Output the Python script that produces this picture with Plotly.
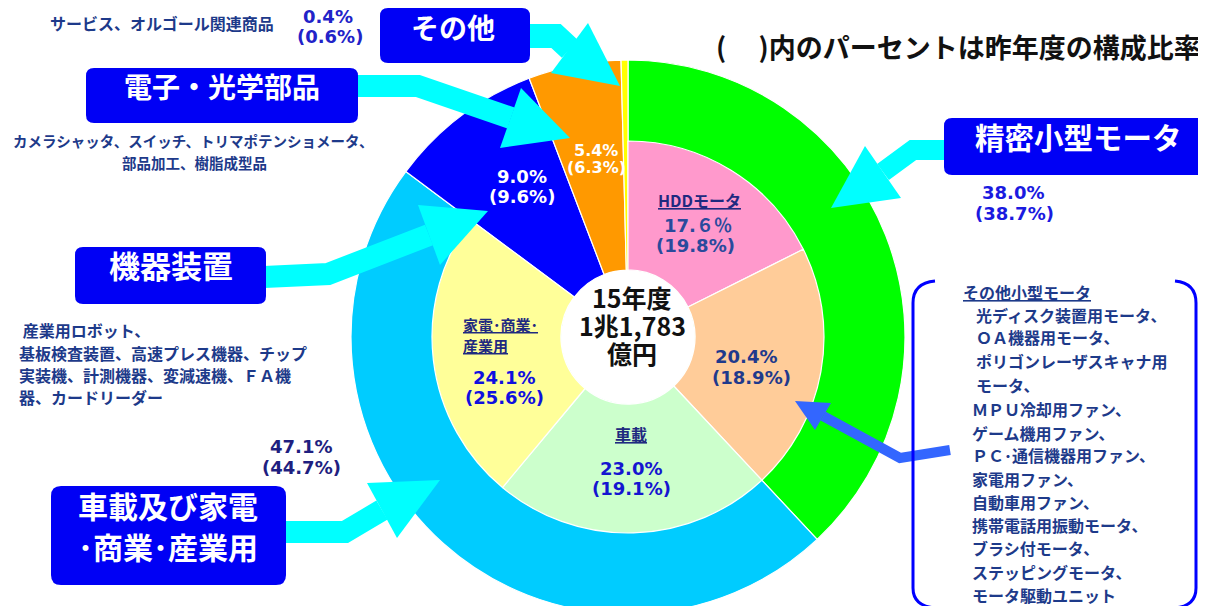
import plotly.graph_objects as go

# ---------------- data ----------------
outer_labels = ['精密小型モータ', '車載及び家電・商業・産業用', '機器装置', '電子・光学部品', 'その他']
outer_values = [38.0, 47.1, 9.0, 5.4, 0.4]
outer_prev = [38.7, 44.7, 9.6, 6.3, 0.6]
outer_colors = ['#00FF00', '#00CCFF', '#0000FF', '#FF9900', '#FFFF00']

inner_labels = ['HDDモータ', 'その他小型モータ', '車載', '家電・商業・産業用']
inner_values = [17.6, 20.4, 23.0, 24.1]
inner_prev = [19.8, 18.9, 19.1, 25.6]
inner_colors = ['#FF99CC', '#FFCC99', '#CCFFCC', '#FFFF99']

center_text = ['15年度', '1兆1,783', '億円']
note_text = '(\u3000\u2009)内のパーセントは昨年度の構成比率'

desc_other = 'サービス、オルゴール関連商品'
desc_parts = ['カメラシャッタ、スイッチ、トリマポテンショメータ、', '部品加工、樹脂成型品']
desc_equip = [' 産業用ロボット、', '基板検査装置、高速プレス機器、チップ',
              '実装機、計測機器、変減速機、ＦＡ機', '器、カードリーダー']
desc_small_title = 'その他小型モータ'
desc_small = ['光ディスク装置用モータ、', 'ＯＡ機器用モータ、', 'ポリゴンレーザスキャナ用', 'モータ、',
              'ＭＰＵ冷却用ファン、', 'ゲーム機用ファン、', 'ＰＣ･通信機器用ファン、', '家電用ファン、',
              '自動車用ファン、', '携帯電話用振動モータ、', 'ブラシ付モータ、', 'ステッピングモータ、',
              'モータ駆動ユニット']

# ---------------- layout helpers ----------------
W, H = 1206, 606
JP = 'Noto Sans CJK JP'
NUM = 'DejaVu Sans, Noto Sans CJK JP'
NAVY = '#1d3a8a'


def X(px):
    return px / W


def Y(py):
    return 1 - py / H


def pct(v):
    return f'{v:.1f}%'


def prev(v):
    return f'({v:.1f}%)'


# pie geometry (pixels); domain half sizes compensate plotly's radius shrink
CX, CY = 620, 329
D_OUT, D_IN = 277, 196
R_OUT, R_IN, R_HOLE = 269, 190, 65

fig = go.Figure()

fig.add_trace(go.Pie(
    labels=outer_labels, values=outer_values, sort=False, direction='clockwise', rotation=0,
    hole=R_HOLE / R_OUT, textinfo='none', hoverinfo='skip',
    marker=dict(colors=outer_colors, line=dict(color='white', width=1.2)),
    domain=dict(x=[X(CX - D_OUT), X(CX + D_OUT)], y=[max(0, Y(CY + D_OUT)), Y(CY - D_OUT)]),
))

rest = sum(outer_values[2:])
fig.add_trace(go.Pie(
    labels=inner_labels + ['rest'], values=inner_values + [rest], sort=False, direction='clockwise',
    rotation=0, hole=R_HOLE / R_IN, textinfo='none', hoverinfo='skip',
    marker=dict(colors=inner_colors + ['rgba(0,0,0,0)'],
                line=dict(color=['white'] * 4 + ['rgba(0,0,0,0)'], width=[1.2] * 4 + [0])),
    domain=dict(x=[X(CX - D_IN), X(CX + D_IN)], y=[Y(CY + D_IN), Y(CY - D_IN)]),
))

shapes = []
annotations = []


def rrect(x0, y0, x1, y1, r, color):
    p = (f'M {X(x0 + r)},{Y(y0)} L {X(x1 - r)},{Y(y0)} Q {X(x1)},{Y(y0)} {X(x1)},{Y(y0 + r)} '
         f'L {X(x1)},{Y(y1 - r)} Q {X(x1)},{Y(y1)} {X(x1 - r)},{Y(y1)} '
         f'L {X(x0 + r)},{Y(y1)} Q {X(x0)},{Y(y1)} {X(x0)},{Y(y1 - r)} '
         f'L {X(x0)},{Y(y0 + r)} Q {X(x0)},{Y(y0)} {X(x0 + r)},{Y(y0)} Z')
    shapes.append(dict(type='path', xref='paper', yref='paper', path=p,
                       fillcolor=color, line=dict(width=0)))


def arrow(shaft, head, width, color):
    p = 'M ' + ' L '.join(f'{X(a)},{Y(b)}' for a, b in shaft)
    shapes.append(dict(type='path', xref='paper', yref='paper', path=p,
                       line=dict(color=color, width=width)))
    p2 = 'M ' + ' L '.join(f'{X(a)},{Y(b)}' for a, b in head) + ' Z'
    shapes.append(dict(type='path', xref='paper', yref='paper', path=p2,
                       fillcolor=color, line=dict(width=0)))


def txt(s, x, y, size, color, family=JP, xanchor='center', weight='bold'):
    y = y - 0.36 * size  # visual centre correction
    annotations.append(dict(text=s, x=X(x), y=Y(y), xref='paper', yref='paper', showarrow=False,
                            xanchor=xanchor, yanchor='middle',
                            font=dict(family=family, size=size, color=color, weight=weight)))


CYAN = '#00FFFF'
# arrows
arrow([(520, 28), (548, 28), (562, 41)], [(580, 15), (543, 65), (612, 78)], 24, CYAN)
arrow([(348, 78), (410, 78), (503, 110)], [(513, 80), (492, 140), (562, 130)], 22, CYAN)
arrow([(256, 269), (320, 266), (421, 227)], [(410, 197), (432, 257), (480, 203)], 22, CYAN)
arrow([(278, 524), (337, 524), (374, 502)], [(359, 475), (389, 530), (432, 472)], 22, CYAN)
arrow([(939, 142), (905, 142), (875, 164)], [(857, 138), (893, 190), (823, 200)], 20, CYAN)
arrow([(942, 442), (892, 450), (815, 408)], [(823, 395), (807, 422), (787, 393)], 10, '#3366FF')

# boxes
BOX = '#0000F5'
rrect(372, 0, 522, 55, 8, BOX)
rrect(78, 60, 350, 115, 8, BOX)
rrect(67, 239, 258, 296, 8, BOX)
rrect(43, 478, 278, 577, 10, BOX)
rrect(936, 110, 1205, 167, 8, BOX)

txt(outer_labels[4], 445, 29, 28, 'white')
txt(outer_labels[3], 214, 88, 28, 'white')
txt(outer_labels[2], 163, 268, 31, 'white')
txt('車載及び家電', 160, 508, 30, 'white')
txt('･商業･産業用', 160, 549, 30, 'white')
txt(outer_labels[0], 1070, 139, 29.5, 'white')

# bracket around the small-motor list
BL = '#0000FF'
shapes.append(dict(type='path', xref='paper', yref='paper', line=dict(color=BL, width=3),
                   path=f'M {X(927)},{Y(273)} Q {X(905)},{Y(275)} {X(905)},{Y(295)} L {X(905)},{Y(580)} '
                        f'Q {X(905)},{Y(598)} {X(927)},{Y(600)}'))
shapes.append(dict(type='path', xref='paper', yref='paper', line=dict(color=BL, width=3),
                   path=f'M {X(1167)},{Y(273)} Q {X(1188)},{Y(275)} {X(1188)},{Y(295)} L {X(1188)},{Y(580)} '
                        f'Q {X(1188)},{Y(598)} {X(1167)},{Y(600)}'))

# title note
txt(note_text, 1195, 48, 27, '#111111', xanchor='right')

# descriptive texts
txt(desc_other, 154, 21, 16, NAVY)
txt(desc_parts[0], 185, 138, 14.5, NAVY)
txt(desc_parts[1], 186, 160, 14.5, NAVY)
for i, line in enumerate(desc_equip):
    txt(line, 9, 328 + i * 22.3, 16, NAVY, xanchor='left')

txt(f'<u>{desc_small_title}</u>', 953, 290, 16, NAVY, xanchor='left')
small_y = [313, 335, 359, 383, 407, 431, 453, 477, 500, 523, 546, 570, 593]
for i, line in enumerate(desc_small):
    txt(line, 966 if i < 4 else 962, small_y[i], 16, NAVY, xanchor='left')

# outer percentages
txt(pct(outer_values[4]), 320, 15, 18, '#2222c8', NUM)
txt(prev(outer_prev[4]), 322, 35, 18, '#2222c8', NUM)
txt(pct(outer_values[0]), 1005, 191, 18, '#1a1ae0', NUM)
txt(prev(outer_prev[0]), 1006, 212, 18, '#1a1ae0', NUM)
txt(pct(outer_values[1]), 293, 445, 18, '#1f1f80', NUM)
txt(prev(outer_prev[1]), 293, 466, 18, '#1f1f80', NUM)
txt(pct(outer_values[2]), 514, 175, 18, 'white', NUM)
txt(prev(outer_prev[2]), 514, 195, 18, 'white', NUM)
txt(pct(outer_values[3]), 588, 148, 16, 'white', NUM)
txt(prev(outer_prev[3]), 588, 165, 16, 'white', NUM)

# inner labels
fw = str.maketrans('0123456789%', '０１２３４５６７８９％')
hdd = f'{inner_values[0]:.1f}'
hdd = hdd[:-1] + (hdd[-1] + '%').translate(fw)
txt(f'<u>{inner_labels[0]}</u>', 691, 198, 16, '#1f2a80')
txt(hdd, 690, 224, 18, '#2a4a9c', NUM)
txt(prev(inner_prev[0]), 687, 244, 18, '#2a4a9c', NUM)

txt(pct(inner_values[1]), 738, 355, 18, '#1f3a8c', NUM)
txt(prev(inner_prev[1]), 743, 376, 18, '#1f3a8c', NUM)

txt(f'<u>{inner_labels[2]}</u>', 623, 432, 16, '#1f2a80')
txt(pct(inner_values[2]), 623, 467, 18, '#1515d0', NUM)
txt(prev(inner_prev[2]), 623, 487, 18, '#1515d0', NUM)

txt('<u>家電･商業･</u>', 453, 322, 15, '#1f2a80', xanchor='left')
txt('<u>産業用</u>', 453, 343, 15, '#1f2a80', xanchor='left')
txt(pct(inner_values[3]), 496, 376, 18, '#1010e0', NUM)
txt(prev(inner_prev[3]), 496, 396, 18, '#1010e0', NUM)

# center
for i, line in enumerate(center_text):
    txt(line, 624, 298 + i * 28, 25, '#111111')

fig.update_layout(
    width=W, height=H, margin=dict(l=0, r=0, t=0, b=0),
    paper_bgcolor='white', plot_bgcolor='white', showlegend=False,
    shapes=shapes, annotations=annotations,
)

fig.write_html('out.html')
